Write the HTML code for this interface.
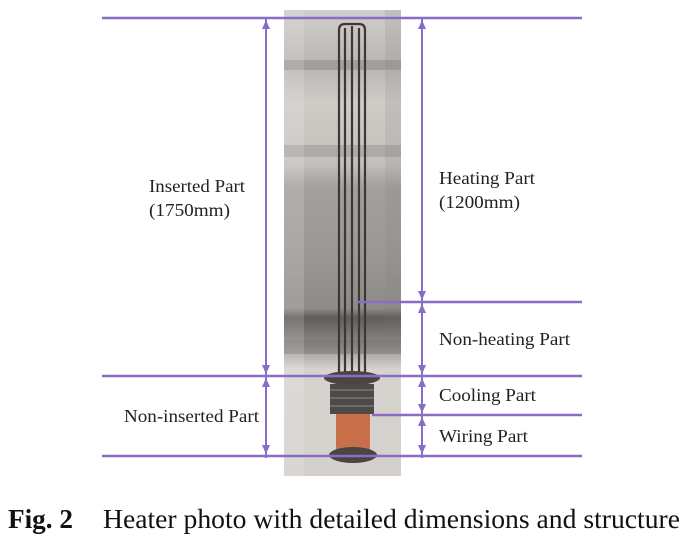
<!DOCTYPE html>
<html><head><meta charset="utf-8"><style>
body{margin:0;background:#fff;}
svg{display:block}
</style></head><body>
<svg width="686" height="548" viewBox="0 0 686 548" xmlns="http://www.w3.org/2000/svg">
<defs>
<linearGradient id="bg" x1="0" y1="0" x2="0" y2="1">
<stop offset="0" stop-color="#d0cdca"/><stop offset="0.12" stop-color="#b9b6b3"/>
<stop offset="0.2" stop-color="#cfcbc7"/><stop offset="0.33" stop-color="#c4c1bd"/>
<stop offset="0.38" stop-color="#a3a09c"/><stop offset="0.5" stop-color="#9d9a96"/>
<stop offset="0.64" stop-color="#8f8c88"/><stop offset="0.66" stop-color="#5f5c59"/>
<stop offset="0.7" stop-color="#7e7b77"/><stop offset="0.77" stop-color="#d6d3cf"/>
<stop offset="1" stop-color="#d4d1cc"/></linearGradient>
</defs>
<rect x="0" y="0" width="686" height="548" fill="#fff"/>
<rect x="284" y="10" width="117" height="466" fill="url(#bg)"/>
<rect x="284" y="60" width="117" height="10" fill="#8a8784" opacity="0.5"/>
<rect x="284" y="145" width="117" height="12" fill="#8a8784" opacity="0.4"/>
<rect x="284" y="340" width="117" height="14" fill="#6a6763" opacity="0.4"/>
<rect x="284" y="10" width="20" height="466" fill="#fff" opacity="0.15"/>
<rect x="385" y="10" width="16" height="330" fill="#777" opacity="0.15"/>
<g stroke="#3d3836" stroke-width="2.2" fill="none">
<path d="M339 385 V30 q0-6 6-6 h14 q6 0 6 6 V385"/>
<path d="M345 385 V28 M352 385 V26 M359 385 V28"/>
</g>
<ellipse cx="352" cy="378" rx="28" ry="7" fill="#4a4443"/>
<rect x="330" y="384" width="44" height="30" fill="#4f4a48"/>
<g stroke="#777" stroke-width="1.5"><line x1="330" y1="390" x2="374" y2="390"/><line x1="330" y1="398" x2="374" y2="398"/><line x1="330" y1="406" x2="374" y2="406"/></g>
<rect x="336" y="414" width="34" height="36" fill="#c8704a"/>
<ellipse cx="353" cy="455" rx="24" ry="8" fill="#4a4443"/>
<g stroke="#8a6cc4" stroke-width="2.4">
<line x1="102" y1="18" x2="582" y2="18"/>
<line x1="357" y1="302" x2="582" y2="302"/>
<line x1="102" y1="376" x2="582" y2="376"/>
<line x1="372" y1="415" x2="582" y2="415"/>
<line x1="102" y1="456" x2="582" y2="456"/>
<line x1="266" y1="18" x2="266" y2="458" stroke-width="2"/>
<line x1="422" y1="18" x2="422" y2="458" stroke-width="2"/>
</g>
<g fill="#8a6cc4">
<path d="M266 20 l-4 9 h8z"/><path d="M266 374 l-4 -9 h8z"/>
<path d="M266 378 l-4 9 h8z"/><path d="M266 454 l-4 -9 h8z"/>
<path d="M422 20 l-4 9 h8z"/><path d="M422 300 l-4 -9 h8z"/>
<path d="M422 304 l-4 9 h8z"/><path d="M422 374 l-4 -9 h8z"/>
<path d="M422 378 l-4 9 h8z"/><path d="M422 413 l-4 -9 h8z"/>
<path d="M422 417 l-4 9 h8z"/><path d="M422 454 l-4 -9 h8z"/>
</g>
<g font-family="Liberation Serif, serif" font-size="18" fill="#222" lengthAdjust="spacingAndGlyphs">
<text x="149" y="192" textLength="96" lengthAdjust="spacingAndGlyphs">Inserted Part</text>
<text x="149" y="216" textLength="81" lengthAdjust="spacingAndGlyphs">(1750mm)</text>
<text x="124" y="422" textLength="135" lengthAdjust="spacingAndGlyphs">Non-inserted Part</text>
<text x="439" y="184" textLength="96" lengthAdjust="spacingAndGlyphs">Heating Part</text>
<text x="439" y="208" textLength="81" lengthAdjust="spacingAndGlyphs">(1200mm)</text>
<text x="439" y="345" textLength="131" lengthAdjust="spacingAndGlyphs">Non-heating Part</text>
<text x="439" y="401" textLength="97" lengthAdjust="spacingAndGlyphs">Cooling Part</text>
<text x="439" y="442" textLength="89" lengthAdjust="spacingAndGlyphs">Wiring Part</text>
</g>
<text x="8" y="528" font-family="Liberation Serif, serif" font-size="27" font-weight="bold" fill="#111" textLength="65" lengthAdjust="spacingAndGlyphs">Fig. 2</text>
<text x="103" y="528" font-family="Liberation Serif, serif" font-size="27" fill="#111" textLength="577" lengthAdjust="spacingAndGlyphs">Heater photo with detailed dimensions and structure</text>
</svg>
</body></html>
